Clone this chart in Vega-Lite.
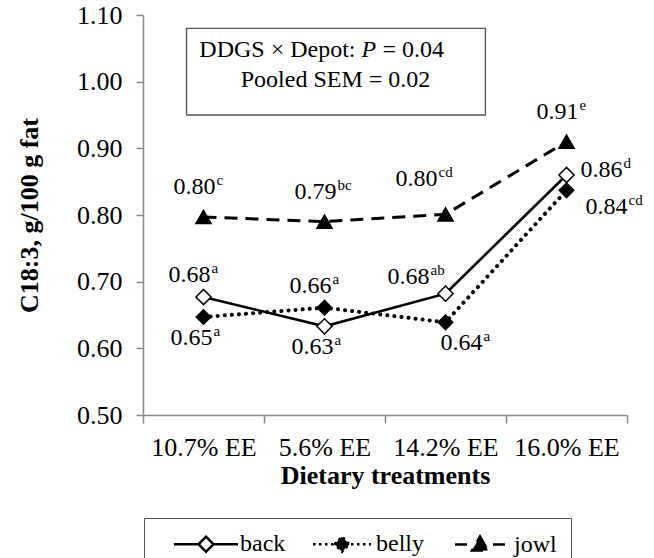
{
  "$schema": "https://vega.github.io/schema/vega-lite/v6.json",
  "width": 484,
  "height": 400,
  "autosize": {"type": "none"},
  "padding": {"left": 143, "top": 15, "right": 27, "bottom": 143},
  "background": "white",
  "config": {"view": {"stroke": null}, "font": "Liberation Serif, Times New Roman, serif"},
  "data": {"values": [
    {"treatment": "10.7% EE", "series": "back", "value": 0.677, "num": "0.68", "sup": "a"},
    {"treatment": "5.6% EE", "series": "back", "value": 0.633, "num": "0.63", "sup": "a"},
    {"treatment": "14.2% EE", "series": "back", "value": 0.682, "num": "0.68", "sup": "ab"},
    {"treatment": "16.0% EE", "series": "back", "value": 0.860, "num": "0.86", "sup": "d"},
    {"treatment": "10.7% EE", "series": "belly", "value": 0.647, "num": "0.65", "sup": "a"},
    {"treatment": "5.6% EE", "series": "belly", "value": 0.661, "num": "0.66", "sup": "a"},
    {"treatment": "14.2% EE", "series": "belly", "value": 0.639, "num": "0.64", "sup": "a"},
    {"treatment": "16.0% EE", "series": "belly", "value": 0.837, "num": "0.84", "sup": "cd"},
    {"treatment": "10.7% EE", "series": "jowl", "value": 0.797, "num": "0.80", "sup": "c"},
    {"treatment": "5.6% EE", "series": "jowl", "value": 0.790, "num": "0.79", "sup": "bc"},
    {"treatment": "14.2% EE", "series": "jowl", "value": 0.801, "num": "0.80", "sup": "cd"},
    {"treatment": "16.0% EE", "series": "jowl", "value": 0.910, "num": "0.91", "sup": "e"}
  ]},
  "encoding": {
    "x": {
      "field": "treatment", "type": "nominal",
      "scale": {"type": "band", "paddingInner": 0, "paddingOuter": 0, "domain": ["10.7% EE", "5.6% EE", "14.2% EE", "16.0% EE"]},
      "axis": {
        "title": "Dietary treatments", "labelAngle": 0, "tickBand": "extent", "tickSize": 8,
        "domainColor": "#888", "tickColor": "#888", "domainWidth": 1.5, "tickWidth": 1.5,
        "labelFont": "Liberation Serif, Times New Roman, serif", "labelFontSize": 26, "labelColor": "black", "labelPadding": 11,
        "titleFont": "Liberation Serif, Times New Roman, serif", "titleFontSize": 26, "titleFontWeight": "bold", "titleColor": "black", "titlePadding": 2
      }
    },
    "y": {
      "field": "value", "type": "quantitative",
      "scale": {"domain": [0.5, 1.1], "nice": false, "zero": false},
      "axis": {
        "title": "C18:3, g/100 g fat", "values": [0.5, 0.6, 0.7, 0.8, 0.9, 1.0, 1.1], "format": ".2f", "grid": false,
        "tickSize": 7, "domainColor": "#888", "tickColor": "#888", "domainWidth": 1.5, "tickWidth": 1.5,
        "labelFont": "Liberation Serif, Times New Roman, serif", "labelFontSize": 26, "labelColor": "black", "labelPadding": 14,
        "titleFont": "Liberation Serif, Times New Roman, serif", "titleFontSize": 26, "titleFontWeight": "bold", "titleColor": "black", "titlePadding": 34
      }
    }
  },
  "layer": [
    {
      "transform": [{"filter": "datum.series === 'back' && datum.treatment === '10.7% EE'"}],
      "mark": {"type": "rect", "fill": "white", "stroke": "#555", "strokeWidth": 1.3},
      "encoding": {
        "x": {"datum": "10.7% EE", "bandPosition": 0.36},
        "x2": {"datum": "14.2% EE", "bandPosition": 0.83},
        "y": {"datum": 1.08},
        "y2": {"datum": 0.95}
      }
    },
    {
      "transform": [{"filter": "datum.series === 'back' && datum.treatment === '10.7% EE'"}],
      "layer": [
        {"mark": {"type": "text", "align": "right", "baseline": "alphabetic", "fontSize": 24, "dx": 31, "font": "Liberation Serif, Times New Roman, serif", "color": "black"},
         "encoding": {"text": {"value": "DDGS × Depot:"}}},
        {"mark": {"type": "text", "align": "left", "baseline": "alphabetic", "fontSize": 24, "dx": 37, "fontStyle": "italic", "font": "Liberation Serif, Times New Roman, serif", "color": "black"},
         "encoding": {"text": {"value": "P"}}},
        {"mark": {"type": "text", "align": "left", "baseline": "alphabetic", "fontSize": 24, "dx": 58, "font": "Liberation Serif, Times New Roman, serif", "color": "black"},
         "encoding": {"text": {"value": "= 0.04"}}},
        {"mark": {"type": "text", "align": "center", "baseline": "alphabetic", "fontSize": 24, "dx": 11, "dy": 30, "font": "Liberation Serif, Times New Roman, serif", "color": "black"},
         "encoding": {"text": {"value": "Pooled SEM = 0.02"}}}
      ],
      "encoding": {"x": {"datum": "5.6% EE"}, "y": {"datum": 1.037}}
    },
    {
      "transform": [{"filter": "datum.series === 'back'"}],
      "mark": {"type": "line", "color": "black", "strokeWidth": 2.6, "strokeCap": "butt"}
    },
    {
      "transform": [{"filter": "datum.series === 'jowl'"}],
      "mark": {"type": "line", "color": "black", "strokeWidth": 3, "strokeCap": "butt", "strokeDash": [13, 8]}
    },
    {
      "transform": [{"filter": "datum.series === 'belly'"}],
      "mark": {"type": "line", "color": "black", "strokeWidth": 4, "strokeCap": "round", "strokeDash": [0.1, 7]}
    },
    {
      "transform": [{"filter": "datum.series === 'back'"}],
      "mark": {"type": "point", "shape": "diamond", "filled": true, "fill": "white", "stroke": "black", "strokeWidth": 1.5, "size": 230, "opacity": 1}
    },
    {
      "transform": [{"filter": "datum.series === 'belly'"}],
      "mark": {"type": "point", "shape": "diamond", "filled": true, "fill": "black", "stroke": "black", "strokeWidth": 1.5, "size": 210, "opacity": 1}
    },
    {
      "transform": [{"filter": "datum.series === 'jowl'"}],
      "mark": {"type": "point", "shape": "triangle-up", "filled": true, "fill": "black", "stroke": "black", "strokeWidth": 1.5, "size": 230, "opacity": 1}
    },
    {
      "mark": {"type": "point", "strokeWidth": 2.5, "size": 0},
      "encoding": {
        "shape": {
          "field": "series", "type": "nominal",
          "scale": {"domain": ["back", "belly", "jowl"], "range": [
            "M-3.2,0L-0.8,0M0.8,0L3.2,0M-0.75,0L0,-0.75L0.75,0L0,0.75Z",
            "M-2.9,0L-0.9,0M0.9,0L2.9,0M-0.75,0L0,-0.75L0.75,0L0,0.75Z",
            "M-2.5,0L-1.3,0M1.3,0L2.5,0M0,-0.8L0.8,0.6L-0.8,0.6Z"
          ]},
          "legend": {
            "title": null, "orient": "none", "legendX": 1, "legendY": 503, "direction": "horizontal",
            "strokeColor": "#555", "fillColor": "white", "padding": 14, "symbolSize": 400, "symbolOffset": 36,
            "symbolStrokeWidth": 2.5, "symbolOpacity": 1,
            "labelOffset": 22, "columnPadding": 8, "labelFont": "Liberation Serif, Times New Roman, serif", "labelFontSize": 24, "labelColor": "black"
          }
        },
        "fill": {
          "field": "series", "type": "nominal",
          "scale": {"domain": ["back", "belly", "jowl"], "range": ["white", "black", "black"]},
          "legend": {
            "title": null, "orient": "none", "legendX": 1, "legendY": 503, "direction": "horizontal",
            "strokeColor": "#555", "fillColor": "white", "padding": 14, "symbolSize": 400, "symbolOffset": 36,
            "symbolStrokeWidth": 2.5, "symbolOpacity": 1,
            "labelOffset": 22, "columnPadding": 8, "labelFont": "Liberation Serif, Times New Roman, serif", "labelFontSize": 24, "labelColor": "black"
          }
        },
        "stroke": {
          "field": "series", "type": "nominal",
          "scale": {"domain": ["back", "belly", "jowl"], "range": ["black", "black", "black"]},
          "legend": {
            "title": null, "orient": "none", "legendX": 1, "legendY": 503, "direction": "horizontal",
            "strokeColor": "#555", "fillColor": "white", "padding": 14, "symbolSize": 400, "symbolOffset": 36,
            "symbolStrokeWidth": 2.5, "symbolOpacity": 1,
            "labelOffset": 22, "columnPadding": 8, "labelFont": "Liberation Serif, Times New Roman, serif", "labelFontSize": 24, "labelColor": "black"
          }
        },
        "strokeDash": {
          "field": "series", "type": "nominal",
          "scale": {"domain": ["back", "belly", "jowl"], "range": [[1, 0], [2.5, 3.5], [13, 8]]},
          "legend": {
            "title": null, "orient": "none", "legendX": 1, "legendY": 503, "direction": "horizontal",
            "strokeColor": "#555", "fillColor": "white", "padding": 14, "symbolSize": 400, "symbolOffset": 36,
            "symbolStrokeWidth": 2.5, "symbolOpacity": 1,
            "labelOffset": 22, "columnPadding": 8, "labelFont": "Liberation Serif, Times New Roman, serif", "labelFontSize": 24, "labelColor": "black"
          }
        }
      }
    },
    {
      "transform": [{"filter": "(datum.series === 'back' && datum.treatment === '10.7% EE') || (datum.series === 'belly' && datum.treatment === '5.6% EE')"}],
      "layer": [
        {"mark": {"type": "text", "align": "right", "baseline": "alphabetic", "dx": 7, "dy": -15, "fontSize": 24, "font": "Liberation Serif, Times New Roman, serif", "color": "black"}, "encoding": {"text": {"field": "num"}}},
        {"mark": {"type": "text", "align": "left", "baseline": "alphabetic", "dx": 8, "dy": -24, "fontSize": 15, "font": "Liberation Serif, Times New Roman, serif", "color": "black"}, "encoding": {"text": {"field": "sup"}}}
      ]
    },
    {
      "transform": [{"filter": "datum.series === 'jowl' && datum.treatment !== '14.2% EE'"}],
      "layer": [
        {"mark": {"type": "text", "align": "right", "baseline": "alphabetic", "dx": 12, "dy": -23, "fontSize": 24, "font": "Liberation Serif, Times New Roman, serif", "color": "black"}, "encoding": {"text": {"field": "num"}}},
        {"mark": {"type": "text", "align": "left", "baseline": "alphabetic", "dx": 13, "dy": -32, "fontSize": 15, "font": "Liberation Serif, Times New Roman, serif", "color": "black"}, "encoding": {"text": {"field": "sup"}}}
      ]
    },
    {
      "transform": [{"filter": "datum.series === 'back' && datum.treatment === '14.2% EE'"}],
      "layer": [
        {"mark": {"type": "text", "align": "right", "baseline": "alphabetic", "dx": -16, "dy": -10, "fontSize": 24, "font": "Liberation Serif, Times New Roman, serif", "color": "black"}, "encoding": {"text": {"field": "num"}}},
        {"mark": {"type": "text", "align": "left", "baseline": "alphabetic", "dx": -15, "dy": -19, "fontSize": 15, "font": "Liberation Serif, Times New Roman, serif", "color": "black"}, "encoding": {"text": {"field": "sup"}}}
      ]
    },
    {
      "transform": [{"filter": "datum.series === 'jowl' && datum.treatment === '14.2% EE'"}],
      "layer": [
        {"mark": {"type": "text", "align": "right", "baseline": "alphabetic", "dx": -8, "dy": -28, "fontSize": 24, "font": "Liberation Serif, Times New Roman, serif", "color": "black"}, "encoding": {"text": {"field": "num"}}},
        {"mark": {"type": "text", "align": "left", "baseline": "alphabetic", "dx": -7, "dy": -37, "fontSize": 15, "font": "Liberation Serif, Times New Roman, serif", "color": "black"}, "encoding": {"text": {"field": "sup"}}}
      ]
    },
    {
      "transform": [{"filter": "(datum.series === 'back' && datum.treatment === '5.6% EE') || (datum.series === 'belly' && datum.treatment === '10.7% EE')"}],
      "layer": [
        {"mark": {"type": "text", "align": "right", "baseline": "alphabetic", "dx": 9, "dy": 28, "fontSize": 24, "font": "Liberation Serif, Times New Roman, serif", "color": "black"}, "encoding": {"text": {"field": "num"}}},
        {"mark": {"type": "text", "align": "left", "baseline": "alphabetic", "dx": 10, "dy": 19, "fontSize": 15, "font": "Liberation Serif, Times New Roman, serif", "color": "black"}, "encoding": {"text": {"field": "sup"}}}
      ]
    },
    {
      "transform": [{"filter": "datum.series === 'belly' && datum.treatment === '14.2% EE'"}],
      "layer": [
        {"mark": {"type": "text", "align": "right", "baseline": "alphabetic", "dx": 37, "dy": 28, "fontSize": 24, "font": "Liberation Serif, Times New Roman, serif", "color": "black"}, "encoding": {"text": {"field": "num"}}},
        {"mark": {"type": "text", "align": "left", "baseline": "alphabetic", "dx": 38, "dy": 19, "fontSize": 15, "font": "Liberation Serif, Times New Roman, serif", "color": "black"}, "encoding": {"text": {"field": "sup"}}}
      ]
    },
    {
      "transform": [{"filter": "datum.series === 'back' && datum.treatment === '16.0% EE'"}],
      "layer": [
        {"mark": {"type": "text", "align": "right", "baseline": "alphabetic", "dx": 56, "dy": 2, "fontSize": 24, "font": "Liberation Serif, Times New Roman, serif", "color": "black"}, "encoding": {"text": {"field": "num"}}},
        {"mark": {"type": "text", "align": "left", "baseline": "alphabetic", "dx": 57, "dy": -7, "fontSize": 15, "font": "Liberation Serif, Times New Roman, serif", "color": "black"}, "encoding": {"text": {"field": "sup"}}}
      ]
    },
    {
      "transform": [{"filter": "datum.series === 'belly' && datum.treatment === '16.0% EE'"}],
      "layer": [
        {"mark": {"type": "text", "align": "right", "baseline": "alphabetic", "dx": 61, "dy": 24, "fontSize": 24, "font": "Liberation Serif, Times New Roman, serif", "color": "black"}, "encoding": {"text": {"field": "num"}}},
        {"mark": {"type": "text", "align": "left", "baseline": "alphabetic", "dx": 62, "dy": 15, "fontSize": 15, "font": "Liberation Serif, Times New Roman, serif", "color": "black"}, "encoding": {"text": {"field": "sup"}}}
      ]
    }
  ]
}
